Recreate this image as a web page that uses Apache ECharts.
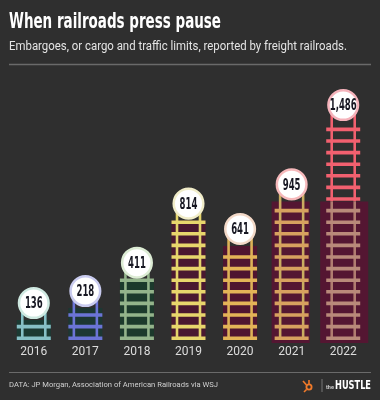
<!DOCTYPE html>
<html>
<head>
<meta charset="utf-8">
<script src="https://cdn.jsdelivr.net/npm/echarts@6/dist/echarts.min.js"></script>
<style>
html,body{margin:0;padding:0;background:#2f2f2f;}
#chart{width:380px;height:400px;}
</style>
</head>
<body>
<div id="chart"></div>
<script>
// ---- data ----
const years = ['2016', '2017', '2018', '2019', '2020', '2021', '2022'];
const embargoes = [136, 218, 411, 814, 641, 945, 1486];

// ---- palette ----
const ladderColors = ['#86c0c6', '#6b74d6', '#93b48b', '#e8d66c', '#e3b457', '#d7a15f', '#f2606f'];
const railColors   = ['#86c0c6', '#6b74d6', '#93b48b', '#e3d46a', '#ddb257', '#c9ac60', '#f2606f'];
const bgColors     = ['#1b3a33', '#1d3733', '#1c3a2c', '#4a1830', '#4f1530', '#541632', '#541632'];
const ringColors   = ['#cfe9e1', '#c9cbef', '#dcecd4', '#f1edc9', '#f3d9c8', '#f6b9bb', '#f5b3bb'];
const mutedTie = '#b98a7a';
const mutedRail = '#b07c70';

const FONT_COND = '"Liberation Sans Narrow", "DejaVu Sans Condensed", sans-serif';
const ctx2d = document.createElement('canvas').getContext('2d');
function fitScale(text, font, w) {
  ctx2d.font = font;
  return w / ctx2d.measureText(text).width;
}
function fmt(v) { return v.toLocaleString('en-US'); }

const titleText = 'When railroads press pause';
const titleFont = 'bold 22px ' + FONT_COND;
const subText = 'Embargoes, or cargo and traffic limits, reported by freight railroads.';
const subFont = '12px Roboto';
const footText = 'DATA: JP Morgan, Association of American Railroads via WSJ';
const footFont = '7.5px Roboto';
const hustleFont = 'bold 13px ' + FONT_COND;
const numFont = 'bold 16px ' + FONT_COND;
const numScale = Math.min(1, fitScale('1,486', numFont, 27));

const chart = echarts.init(document.getElementById('chart'), null, {renderer: 'canvas'});

function renderItem(params, api) {
  const idx = api.value(0);
  const val = api.value(1);
  const base = api.coord([idx, 0]);
  const top = api.coord([idx, val]);
  const cx = base[0], by = base[1], ty = top[1];
  const halfW = 17, spacing = 11.6, tieH = 3.6, railOff = 11.5, railW = 2.6;
  const last = years.length - 1;
  const children = [];
  let splitY = -1;
  if (idx >= last - 1) {
    splitY = api.coord([idx, embargoes[last - 1]])[1];
    const l = idx === last ? 23 : 20, r = idx === last ? 25 : 18;
    children.push({type: 'rect', shape: {x: cx - l, y: splitY, width: l + r, height: by - splitY + 3},
      style: {fill: bgColors[idx]}});
  } else {
    children.push({type: 'rect', shape: {x: cx - halfW, y: ty, width: halfW * 2, height: by - ty},
      style: {fill: bgColors[idx]}});
  }
  const cy = ty - 17;
  // rails
  [-railOff, railOff].forEach(function (o) {
    if (idx === last && splitY > 0) {
      children.push({type: 'rect', shape: {x: cx + o - railW / 2, y: cy, width: railW, height: splitY - cy},
        style: {fill: railColors[idx]}});
      children.push({type: 'rect', shape: {x: cx + o - railW / 2, y: splitY, width: railW, height: by - splitY},
        style: {fill: mutedRail}});
    } else {
      children.push({type: 'rect', shape: {x: cx + o - railW / 2, y: cy, width: railW, height: by - cy},
        style: {fill: railColors[idx]}});
    }
  });
  // ties
  for (let k = 0; ; k++) {
    const y = by - tieH - k * spacing;
    if (y < ty - 2) break;
    const muted = idx === last && y > splitY;
    children.push({type: 'rect', shape: {x: cx - halfW, y: y, width: halfW * 2, height: tieH},
      style: {fill: muted ? mutedTie : ladderColors[idx]}});
  }
  // label circle
  children.push({type: 'circle', shape: {cx: cx, cy: cy, r: 14.8},
    style: {fill: '#ffffff', stroke: ringColors[idx], lineWidth: 2.5}});
  children.push({type: 'text', x: cx, y: cy + 1, scaleX: numScale,
    style: {text: fmt(val), font: numFont, fill: '#171722', align: 'center', verticalAlign: 'middle'}});
  return {type: 'group', children: children};
}

const option = {
  backgroundColor: '#2f2f2f',
  animation: false,
  grid: {left: 8, right: 11, top: 76, bottom: 60},
  xAxis: {
    type: 'category',
    data: years,
    axisLine: {show: false},
    axisTick: {show: false},
    axisLabel: {color: '#dddddd', fontFamily: 'Roboto', fontSize: 12, margin: 6}
  },
  yAxis: {type: 'value', min: 0, max: 1800, show: false, splitLine: {show: false}},
  series: [{
    type: 'custom',
    renderItem: renderItem,
    data: embargoes.map(function (v, i) { return [i, v]; }),
    encode: {x: 0, y: 1}
  }],
  graphic: [
    {type: 'text', x: 9, y: 11, scaleX: fitScale(titleText, titleFont, 212),
      style: {text: titleText, font: titleFont, fill: '#ffffff'}},
    {type: 'text', x: 9, y: 41, scaleX: fitScale(subText, subFont, 338),
      style: {text: subText, font: subFont, fill: '#e4e4e4'}},
    {type: 'line', shape: {x1: 9, y1: 64.5, x2: 371, y2: 64.5}, style: {stroke: '#6a6a6a', lineWidth: 1.5}},
    {type: 'line', shape: {x1: 9, y1: 372.5, x2: 371, y2: 372.5}, style: {stroke: '#6a6a6a', lineWidth: 1}},
    {type: 'text', x: 9, y: 381, scaleX: fitScale(footText, footFont, 209),
      style: {text: footText, font: footFont, fill: '#d0d0d0'}},
    {type: 'circle', shape: {cx: 309, cy: 387, r: 2.6}, style: {fill: 'none', stroke: '#f07a2a', lineWidth: 1.8}},
    {type: 'line', shape: {x1: 309, y1: 384, x2: 309, y2: 380}, style: {stroke: '#f07a2a', lineWidth: 1.6}},
    {type: 'line', shape: {x1: 306.5, y1: 385, x2: 303, y2: 381}, style: {stroke: '#f07a2a', lineWidth: 1.6}},
    {type: 'line', shape: {x1: 306.5, y1: 389.5, x2: 304, y2: 392}, style: {stroke: '#f07a2a', lineWidth: 1.6}},
    {type: 'line', shape: {x1: 322, y1: 379, x2: 322, y2: 392}, style: {stroke: '#777777', lineWidth: 1}},
    {type: 'text', x: 326, y: 385, style: {text: 'the', font: 'bold 5.5px Roboto', fill: '#cccccc'}},
    {type: 'text', x: 335, y: 379, scaleX: fitScale('HUSTLE', hustleFont, 36),
      style: {text: 'HUSTLE', font: hustleFont, fill: '#ffffff'}}
  ]
};
chart.setOption(option);
</script>
</body>
</html>
